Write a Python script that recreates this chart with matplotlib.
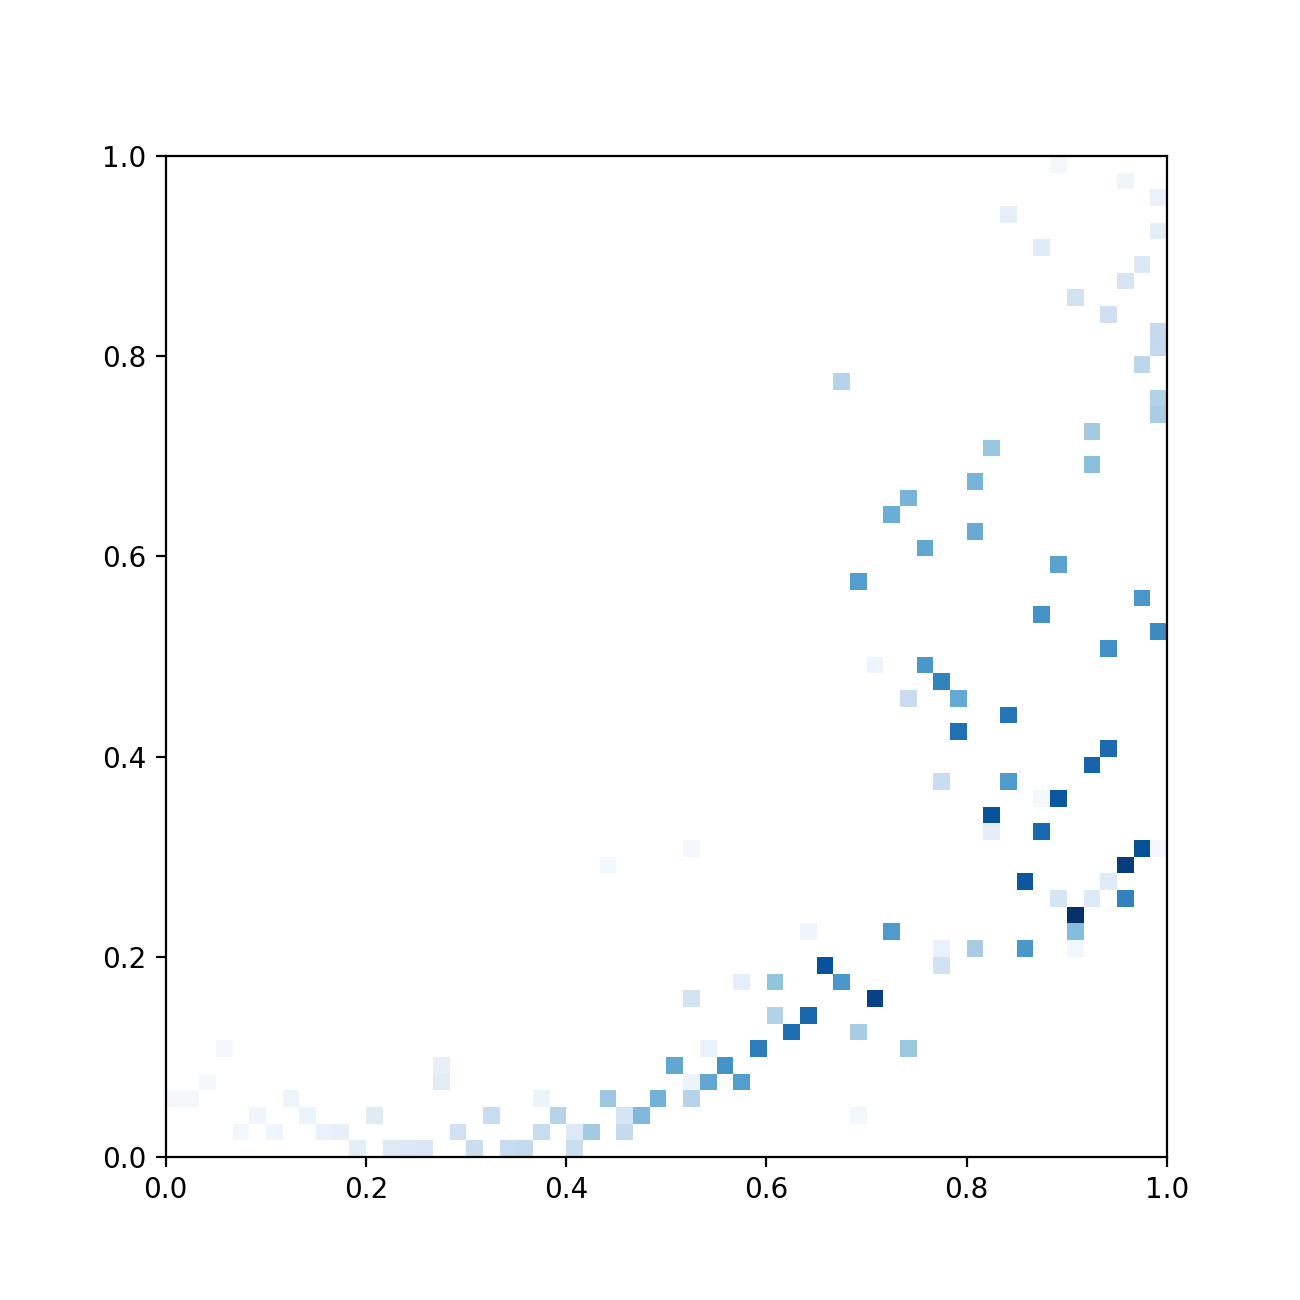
import numpy as np
import matplotlib
matplotlib.use("Agg")
import matplotlib.pyplot as plt

n_bins = 60

# Occupied histogram cells: column index, row index (from the bottom), colour level
columns = [3, 2, 0, 1, 7, 5, 8, 12, 19, 4, 6, 9, 10, 17, 11, 13, 14, 15, 18, 16, 16,
           20, 21, 24, 22, 24, 25, 27, 23, 27, 28, 22, 26, 29, 31, 31, 32, 34, 30, 33,
           32, 35, 37, 36, 38, 31, 34, 36, 40, 39, 38, 31, 26, 41, 41, 44, 42,
           56, 42, 45, 46, 44, 47, 50, 47, 56, 55, 46, 50, 52, 53, 49, 49, 52, 58, 59,
           57, 51, 56, 53, 55, 57, 54, 43, 54, 46, 48, 51, 54, 46,
           53, 57, 59, 50, 59, 52, 58, 57, 54, 56, 59, 59, 58, 40, 59, 59, 55, 49, 55, 48,
           44, 43, 48, 45, 53, 41, 58, 52, 59]
rows = [6, 4, 3, 3, 3, 2, 2, 2, 2, 1, 1, 1, 1, 1, 0, 0, 0, 0, 0, 5, 4,
        0, 0, 0, 1, 1, 1, 1, 2, 2, 2, 3, 3, 3, 3, 4, 4, 4, 5, 5,
        6, 6, 7, 8, 8, 9, 10, 10, 10, 11, 13, 18, 17, 2, 7, 6, 9,
        30, 29, 29, 28, 27, 27, 26, 25, 24, 23, 22, 22, 21, 21, 20, 19, 19, 18, 18,
        17, 16, 16, 15, 15, 15, 14, 13, 13, 12, 12, 12, 12, 11,
        59, 58, 57, 56, 55, 54, 53, 52, 51, 50, 49, 48, 47, 46, 45, 44, 43, 42, 41, 40,
        39, 38, 37, 36, 35, 34, 33, 32, 31]
levels = [.02, .02, .02, .02, .05, .04, .06, .12, .24, .03, .04, .07, .08, .20, .10, .13, .14, .15, .22, .08, .11,
          .24, .26, .22, .24, .13, .36, .26, .30, .17, .45, .06, .38, .48, .30, .06, .53, .57, .53, .62,
          .07, .70, .76, .31, .79, .18, .09, .40, .60, .87, .04, .02, .02, .03, .35, .38, .93,
          .63, .05, .60, .68, .23, .52, .73, .75, .77, .80, .23, .58, .02, .85, .87, .10, .78, .88, .03,
          .95, .85, .12, .17, .13, .68, 1.0, .58, .43, .07, .35, .60, .03, .19,
          .03, .04, .07, .08, .10, .12, .14, .17, .19, .21, .25, .26, .28, .30, .31, .34, .36, .39, .42, .47,
          .47, .50, .51, .53, .55, .57, .60, .62, .65]

tick_values = [0.0, 0.2, 0.4, 0.6, 0.8, 1.0]

grid = np.full((n_bins, n_bins), np.nan)
grid[rows, columns] = levels

fig, ax = plt.subplots(figsize=(6.5, 6.5), dpi=200)
ax.imshow(np.ma.masked_invalid(grid), origin="lower", extent=(0, 1, 0, 1),
          cmap="Blues", vmin=0, vmax=1, interpolation="nearest", aspect="equal")
ax.set_xticks(tick_values)
ax.set_yticks(tick_values)
fig.savefig("out.png", dpi=200)
